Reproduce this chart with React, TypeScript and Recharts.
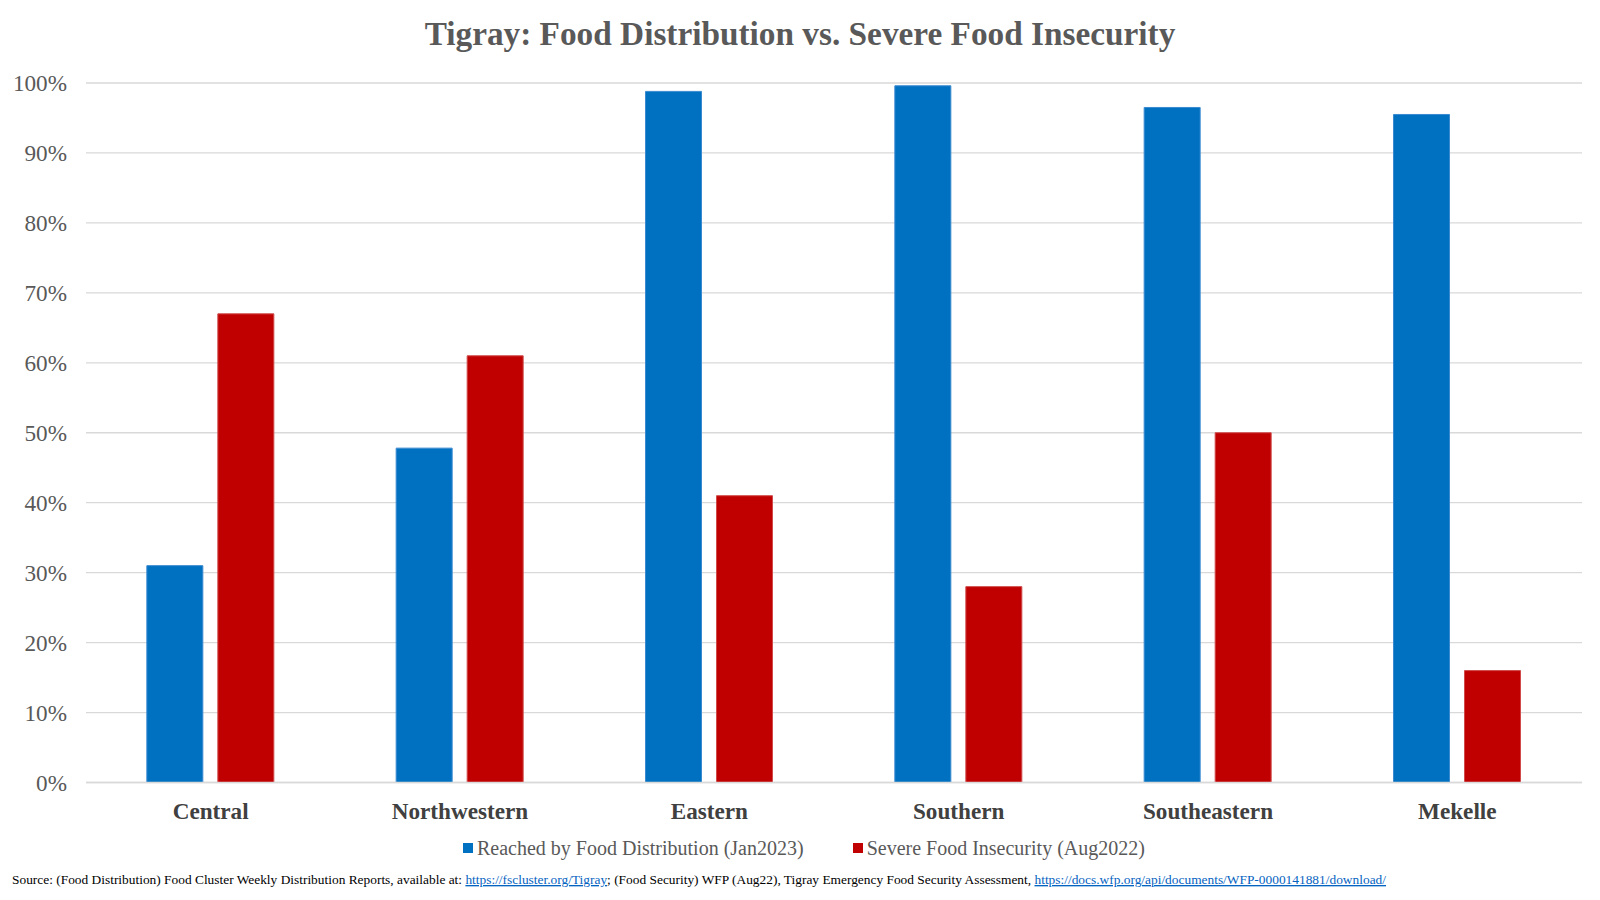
import React from "react";
import { BarChart, Bar, XAxis, YAxis, CartesianGrid } from "recharts";

const categories = ["Central", "Northwestern", "Eastern", "Southern", "Southeastern", "Mekelle"];
const reached = [31, 47.8, 98.8, 99.6, 96.5, 95.5];
const insecurity = [67, 61, 41, 28, 50, 16];
const yTicks = [0, 10, 20, 30, 40, 50, 60, 70, 80, 90, 100];
const seriesNames = ["Reached by Food Distribution (Jan2023)", "Severe Food Insecurity (Aug2022)"];
const colors = ["#0070C0", "#C00000"];

const data = categories.map((c, i) => ({ name: c, reached: reached[i], insecurity: insecurity[i] }));

const FONT = "'Liberation Serif', 'Times New Roman', serif";

export default function App() {
  return (
    <div style={{ position: "absolute", left: 0, top: 0, width: 1600, height: 900, background: "#fff", fontFamily: FONT }}>
      <div style={{ position: "absolute", left: 0, top: 13, width: 1600, textAlign: "center", fontSize: 33.3, fontWeight: "bold", color: "#595959", lineHeight: "42px" }}>
        Tigray: Food Distribution vs. Severe Food Insecurity
      </div>
      <BarChart
        width={1600}
        height={900}
        data={data}
        margin={{ top: 83, right: 18, bottom: 87.5, left: 0 }}
        barCategoryGap="24.4%"
        barGap={15}
      >
        <CartesianGrid vertical={false} stroke="#d9d9d9" strokeWidth={1.3} />
        <XAxis
          dataKey="name"
          tickLine={false}
          axisLine={{ stroke: "#d9d9d9", strokeWidth: 1.3 }}
          tickSize={0}
          tickMargin={20}
          height={30}
          interval={0}
          tick={{ fontFamily: FONT, fontSize: 23.2, fontWeight: "bold", fill: "#404040" }}
        />
        <YAxis
          domain={[0, 100]}
          ticks={yTicks}
          tickFormatter={(v) => `${v}%`}
          tickLine={false}
          axisLine={false}
          tickSize={0}
          tickMargin={19}
          width={86}
          tick={{ fontFamily: FONT, fontSize: 23.2, fill: "#595959" }}
        />
        <Bar dataKey="reached" name={seriesNames[0]} fill={colors[0]} stroke="#3a8ad0" strokeWidth={1} isAnimationActive={false} />
        <Bar dataKey="insecurity" name={seriesNames[1]} fill={colors[1]} stroke="#d04a4a" strokeWidth={1} isAnimationActive={false} />
      </BarChart>
      <div style={{ position: "absolute", left: 463, top: 836, display: "flex", alignItems: "center", fontSize: 20, color: "#595959", lineHeight: "24px", whiteSpace: "nowrap" }}>
        {seriesNames.map((n, i) => (
          <span key={n} style={{ display: "flex", alignItems: "center", marginRight: i === 0 ? 49 : 0 }}>
            <span style={{ display: "inline-block", width: 10, height: 10, background: colors[i], marginRight: 4 }} />
            {n}
          </span>
        ))}
      </div>
      <svg style={{ position: "absolute", left: 0, top: 866 }} width={1600} height={24}>
        <text x={12} y={18} fontFamily={FONT} fontSize={13.5} fill="#000" textLength={1374} lengthAdjust="spacingAndGlyphs">
          Source: (Food Distribution) Food Cluster Weekly Distribution Reports, available at:{" "}
          <tspan fill="#0563C1" textDecoration="underline">https://fscluster.org/Tigray</tspan>
          ; (Food Security) WFP (Aug22), Tigray  Emergency Food Security Assessment,{" "}
          <tspan fill="#0563C1" textDecoration="underline">https://docs.wfp.org/api/documents/WFP-0000141881/download/</tspan>
        </text>
      </svg>
    </div>
  );
}
